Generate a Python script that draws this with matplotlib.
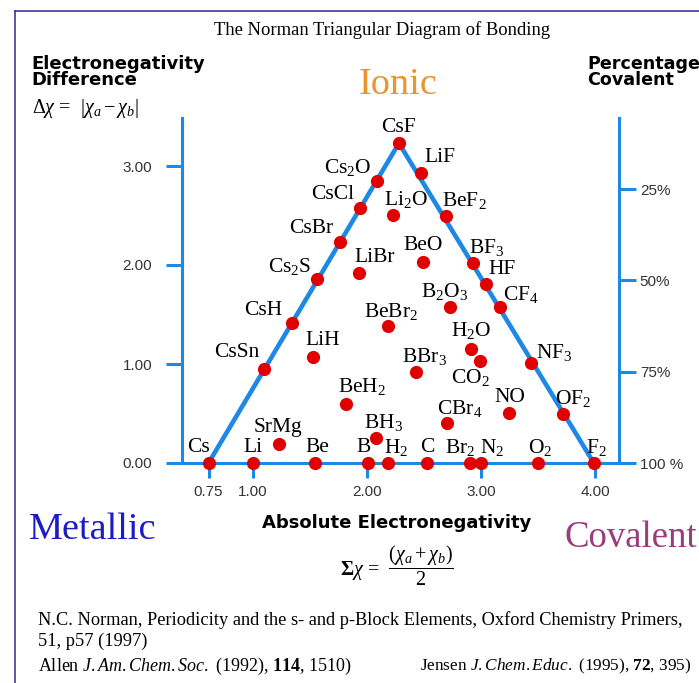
import matplotlib
matplotlib.use("Agg")
import matplotlib.pyplot as plt
from matplotlib.lines import Line2D

# compounds / elements on the diagram
names = ["Cs", "Li", "Be", "B", "H$_2$", "C", "Br$_2$", "N$_2$", "O$_2$", "F$_2$",
         "SrMg", "BH$_3$", "BeH$_2$", "CBr$_4$", "NO", "OF$_2$",
         "CsSn", "LiH", "BBr$_3$", "CO$_2$", "H$_2$O", "NF$_3$",
         "CsH", "BeBr$_2$", "B$_2$O$_3$", "CF$_4$",
         "Cs$_2$S", "LiBr", "BeO", "BF$_3$", "HF",
         "CsBr", "Li$_2$O", "BeF$_2$", "CsCl", "Cs$_2$O", "LiF", "CsF"]
abs_en = [0.61, 1.00, 1.54, 2.01, 2.18, 2.53, 2.90, 3.00, 3.50, 3.99,
          1.23, 2.08, 1.82, 2.70, 3.25, 3.72,
          1.10, 1.53, 2.43, 2.99, 2.91, 3.44,
          1.34, 2.18, 2.73, 3.17,
          1.56, 1.93, 2.49, 2.93, 3.04,
          1.76, 2.23, 2.69, 1.94, 2.085, 2.47, 2.28]
en_diff = [0, 0, 0, 0, 0, 0, 0, 0, 0, 0,
           0.19, 0.25, 0.60, 0.40, 0.51, 0.49,
           0.95, 1.07, 0.92, 1.03, 1.15, 1.01,
           1.41, 1.38, 1.58, 1.58,
           1.86, 1.92, 2.03, 2.02, 1.81,
           2.23, 2.51, 2.49, 2.58, 2.85, 2.93, 3.23]
corners = ["Cs", "CsF", "F$_2$"]

x_ticks = [0.61, 1.0, 2.0, 3.0, 4.0]
x_tick_labels = ["0.75", "1.00", "2.00", "3.00", "4.00"]
y_ticks = [0, 1, 2, 3]
y_tick_labels = ["0.00", "1.00", "2.00", "3.00"]
pct_ticks = [25, 50, 75, 100]
pct_labels = ["25%", "50%", "75%", "100 %"]
pct_zero_at = 3.69  # delta chi where covalent % would be 0

# label offsets in pixels (dx right, dy up) relative to each dot
label_offset = {
    "CsF": (0, 16), "Cs$_2$O": (-29, 13), "CsCl": (-27, 13), "CsBr": (-28, 14),
    "Cs$_2$S": (-27, 12), "Li$_2$O": (13, 15), "LiBr": (16, 15), "BeO": (0, 17),
    "LiF": (19, 15), "BeF$_2$": (19, 16), "BF$_3$": (14, 16), "HF": (17, 14),
    "CF$_4$": (20, 12), "B$_2$O$_3$": (-6, 15), "CsH": (-29, 13), "LiH": (9, 17),
    "CsSn": (-28, 16), "BeBr$_2$": (4, 15), "BBr$_3$": (8, 15), "BeH$_2$": (16, 17),
    "BH$_3$": (7, 16), "SrMg": (-1, 17), "Cs": (-10, 16), "Li": (0, 16),
    "Be": (3, 16), "B": (-5, 16), "H$_2$": (9, 16), "C": (0, 16),
    "Br$_2$": (-9, 16), "N$_2$": (11, 16), "O$_2$": (2, 16), "F$_2$": (3, 16),
    "H$_2$O": (0, 19), "CO$_2$": (-10, -16), "NF$_3$": (23, 11), "NO": (0, 15),
    "OF$_2$": (10, 16), "CBr$_4$": (13, 15),
}

BLUE = "#1E88E5"
RED = "#E00000"
W, H = 699, 683

plt.rcParams["font.family"] = ["Liberation Serif", "DejaVu Serif"]
plt.rcParams["mathtext.fontset"] = "custom"
plt.rcParams["mathtext.rm"] = "Liberation Serif"
plt.rcParams["mathtext.it"] = "Liberation Serif:italic"
plt.rcParams["mathtext.bf"] = "Liberation Serif:bold"

fig = plt.figure(figsize=(W / 100, H / 100), dpi=100)
fig.patch.set_facecolor("white")


def px(x, y):
    return x / W, 1 - y / H


# axes placed so that 1 unit = 114 px in x and 99 px in y
left_px, right_px, top_px, bottom_px = 182, 619, 118, 463
ax = fig.add_axes([left_px / W, 1 - bottom_px / H,
                   (right_px - left_px) / W, (bottom_px - top_px) / H])
ax.set_xlim(1 + (left_px - 253) / 114, 1 + (right_px - 253) / 114)
ax.set_ylim(0, (bottom_px - top_px) / 99)
ax.set_facecolor("none")

for s in ["top", "right"]:
    ax.spines[s].set_visible(False)
for s in ["left", "bottom"]:
    ax.spines[s].set_color(BLUE)
    ax.spines[s].set_linewidth(2.2)

ax.set_xticks(x_ticks)
ax.set_xticklabels(x_tick_labels)
ax.set_yticks(y_ticks)
ax.set_yticklabels(y_tick_labels)
ax.tick_params(axis="x", direction="out", length=11, width=2.2, color=BLUE,
               pad=5, labelsize=11, labelcolor="#333333")
ax.tick_params(axis="y", direction="out", length=11.5, width=2.2, color=BLUE,
               pad=10, labelsize=11, labelcolor="#333333")
for lab in ax.get_xticklabels() + ax.get_yticklabels():
    lab.set_family("Liberation Sans")

# right-hand percentage covalent scale
ax2 = ax.twinx()
ymax = ax.get_ylim()[1]
ax2.set_ylim(100, 100 * (1 - ymax / pct_zero_at))
for s in ["top", "left", "bottom"]:
    ax2.spines[s].set_visible(False)
ax2.spines["right"].set_color(BLUE)
ax2.spines["right"].set_linewidth(2.2)
ax2.set_yticks(pct_ticks)
ax2.set_yticklabels(pct_labels)
ax2.tick_params(axis="y", direction="out", length=12, width=2.2, color=BLUE,
                pad=3, labelsize=11, labelcolor="#333333")
for lab in ax2.get_yticklabels():
    lab.set_family("Liberation Sans")

# triangle edges
tri_x = [abs_en[names.index(n)] for n in corners]
tri_y = [en_diff[names.index(n)] for n in corners]
ax.plot(tri_x, tri_y, color=BLUE, lw=3.3, solid_capstyle="round",
        zorder=3, clip_on=False)

ax.plot(abs_en, en_diff, "o", color=RED, markersize=9.5, markeredgewidth=0,
        zorder=5, clip_on=False)

for n, x, y in zip(names, abs_en, en_diff):
    dx, dy = label_offset[n]
    ax.annotate(n, (x, y), xytext=(dx, dy), textcoords="offset pixels",
                ha="center", va="center", fontsize=15.5, color="black",
                zorder=6, annotation_clip=False)

# frame around the picture
fig.add_artist(Line2D([15 / W, 15 / W], [0, 1 - 11 / H], color="#3C3C8C",
                      lw=1.2, transform=fig.transFigure))
fig.add_artist(Line2D([15 / W, 1], [1 - 11 / H, 1 - 11 / H], color="#3C3C8C",
                      lw=1.2, transform=fig.transFigure))

fig.text(*px(382, 30), "The Norman Triangular Diagram of Bonding",
         ha="center", va="center", fontsize=13.4)

sans = ["DejaVu Sans"]
fig.text(*px(31, 72), "Electronegativity\nDifference", ha="left", va="center",
         fontsize=13, fontweight="bold", family=sans, linespacing=0.9)
fig.text(*px(587, 72), "Percentage\nCovalent", ha="left", va="center",
         fontsize=12.6, fontweight="bold", family=sans, linespacing=0.9)
fig.text(*px(32, 108), r"$\Delta\chi$ =  $|\chi_a - \chi_b|$", ha="left",
         va="center", fontsize=14.5)

fig.text(*px(398, 85), "Ionic", ha="center", va="center", fontsize=27.5,
         color="#E5962E")
fig.text(*px(93, 530), "Metallic", ha="center", va="center", fontsize=27.5,
         color="#1C1CC4")
fig.text(*px(565, 538), "Covalent", ha="left", va="center", fontsize=26.5,
         color="#9A3D7C")

fig.text(*px(397, 523), "Absolute Electronegativity", ha="center",
         va="center", fontsize=13, fontweight="bold", family=sans)
fig.text(*px(397, 566), r"$\mathbf{\Sigma}\chi$ =  $\dfrac{(\chi_a + \chi_b)}{2}$",
         ha="center", va="center", fontsize=14.5)

fig.text(*px(38, 620),
         "N.C. Norman, Periodicity and the s- and p-Block Elements, "
         "Oxford Chemistry Primers,", ha="left", va="center", fontsize=13.2)
fig.text(*px(38, 641), "51, p57 (1997)", ha="left", va="center", fontsize=13.2)
fig.text(*px(38, 666),
         r"Allen $\mathit{J.Am.Chem.Soc.}$ (1992), $\mathbf{114}$, 1510)",
         ha="left", va="center", fontsize=13)
fig.text(*px(420, 666),
         r"Jensen $\mathit{J.Chem.Educ.}$ (1995), $\mathbf{72}$, 395)",
         ha="left", va="center", fontsize=12.4)

fig.savefig("out.png", dpi=100, facecolor="white")
